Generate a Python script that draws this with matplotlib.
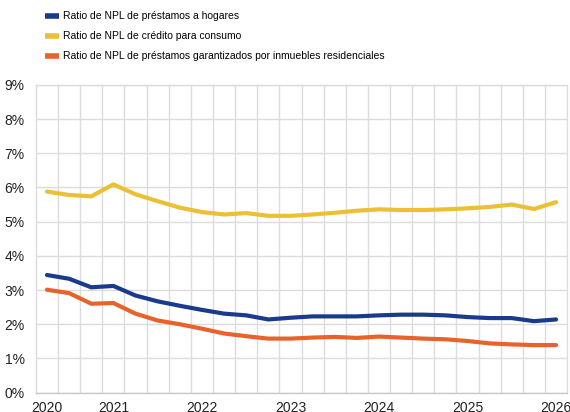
import numpy as np
import matplotlib.pyplot as plt
from matplotlib.ticker import FuncFormatter

# Datos trimestrales (24 observaciones), en %
hogares = [3.44, 3.33, 3.08, 3.12, 2.84, 2.67, 2.54, 2.42,
           2.31, 2.26, 2.14, 2.19, 2.23, 2.23, 2.23, 2.26,
           2.28, 2.28, 2.26, 2.21, 2.18, 2.18, 2.09, 2.14]
consumo = [5.88, 5.78, 5.74, 6.09, 5.80, 5.60, 5.41, 5.28,
           5.21, 5.25, 5.17, 5.17, 5.21, 5.26, 5.32, 5.36,
           5.34, 5.34, 5.36, 5.39, 5.43, 5.50, 5.37, 5.57]
vivienda = [3.01, 2.91, 2.60, 2.62, 2.31, 2.11, 2.00, 1.87,
            1.73, 1.65, 1.58, 1.58, 1.61, 1.63, 1.60, 1.64,
            1.61, 1.58, 1.56, 1.51, 1.44, 1.41, 1.39, 1.39]

tick_idx = [0, 3, 7, 11, 15, 19, 23]
tick_labels = ["2020", "2021", "2022", "2023", "2024", "2025", "2026"]

labels = ["Ratio de NPL de préstamos a hogares",
          "Ratio de NPL de crédito para consumo",
          "Ratio de NPL de préstamos garantizados por inmuebles residenciales"]
colors = ["#1a3a8c", "#ecc035", "#e8622b"]

plt.rcParams['font.family'] = ['Liberation Sans', 'DejaVu Sans']

fig = plt.figure(figsize=(5.7, 4.12), dpi=100)
ax = fig.add_axes([0.063, 0.047, 0.932, 0.747])

x = np.arange(len(hogares))
for serie, lab, col in zip([hogares, consumo, vivienda], labels, colors):
    ax.plot(x, serie, color=col, linewidth=3.0, label=lab,
            solid_capstyle='round', solid_joinstyle='round')

ax.set_xlim(-0.5, len(hogares) - 0.5)
ax.set_ylim(0, 9)
ax.set_yticks(range(0, 10))
ax.yaxis.set_major_formatter(FuncFormatter(lambda v, p: f"{int(v)}%"))
ax.set_xticks(tick_idx)
ax.set_xticklabels(tick_labels)
ax.set_xticks(np.arange(0.5, len(hogares) - 1, 1), minor=True)

ax.grid(True, axis='y', color='#dcdcdc', linewidth=1)
ax.grid(True, axis='x', which='minor', color='#dcdcdc', linewidth=1)
ax.set_axisbelow(True)
ax.tick_params(axis='both', which='both', length=0, labelsize=10, colors='#222222')
ax.tick_params(axis='y', pad=8)
ax.tick_params(axis='x', pad=6)
for s in ax.spines.values():
    s.set_color('#dcdcdc')
    s.set_linewidth(1)
ax.spines['bottom'].set_color('#c8c8c8')

fig.legend(loc='upper left', bbox_to_anchor=(0.066, 0.99), frameon=False,
           fontsize=7.5, handlelength=1.35, handletextpad=0.4,
           labelspacing=0.95, borderaxespad=0.3)
leg = fig.legends[0]
for h in leg.legend_handles:
    h.set_linewidth(4)
    h.set_solid_capstyle('butt')

fig.savefig("out.png", dpi=100)
